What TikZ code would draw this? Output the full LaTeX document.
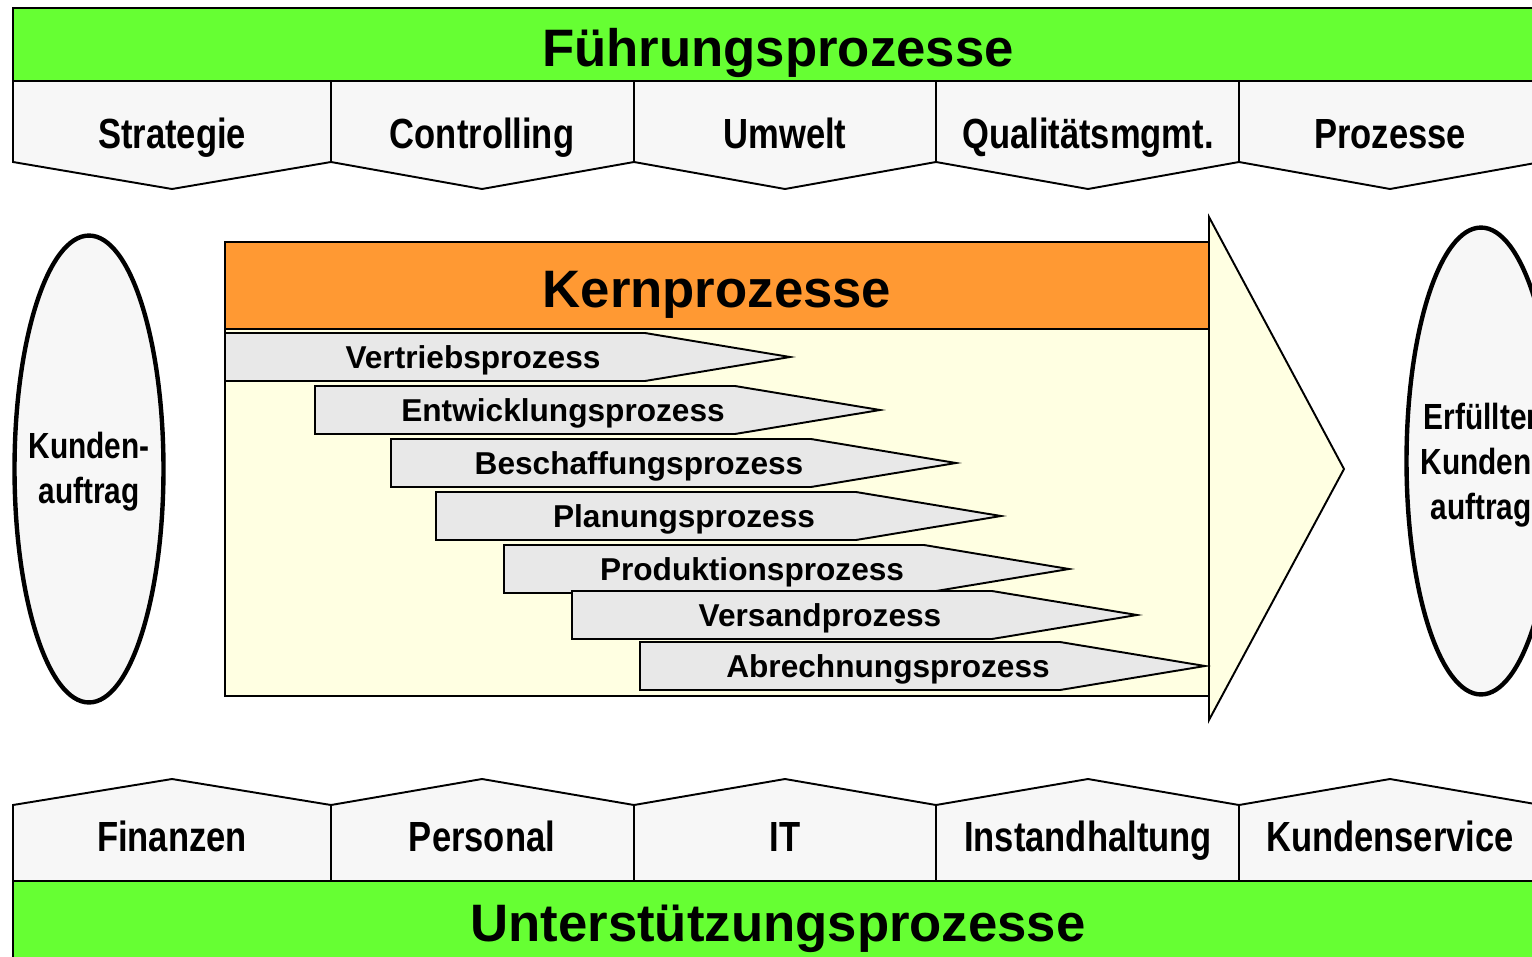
\documentclass[tikz,border=0pt]{standalone}
\usepackage{fontspec}
\setmainfont{Liberation Sans}
\newfontfamily\narrowfont[FakeStretch=0.82]{Liberation Sans}
\usepackage{tikz}
\usetikzlibrary{shapes.geometric}
\definecolor{procgreen}{RGB}{102,255,51}
\definecolor{kernorange}{RGB}{255,153,51}
\definecolor{kernyellow}{RGB}{255,255,226}
\definecolor{tabgray}{RGB}{247,247,247}
\definecolor{stepgray}{RGB}{232,232,232}

\begin{document}
\begin{tikzpicture}[x=0.02cm, y=-0.02cm,
  bar/.style={draw=black, line width=1.1pt, fill=procgreen},
  title/.style={anchor=base, inner sep=0pt, font=\bfseries\fontsize{30}{36}\selectfont},
  tab/.style={draw=black, line width=1.1pt, fill=tabgray},
  tablabel/.style={anchor=base, inner sep=0pt, font=\narrowfont\bfseries\fontsize{24}{28}\selectfont},
  kernbody/.style={draw=black, line width=1.1pt, fill=kernyellow},
  kernhead/.style={draw=black, line width=1.1pt, fill=kernorange},
  stepbox/.style={draw=black, line width=1.1pt, fill=stepgray},
  steplabel/.style={anchor=base, inner sep=0pt, font=\bfseries\fontsize{18}{22}\selectfont},
  order/.style={ellipse, draw=black, line width=2.5pt, fill=tabgray, minimum width=2.98cm, minimum height=9.34cm, inner sep=0pt},
  orderlabel/.style={inner sep=0pt, align=center, font=\narrowfont\bfseries\fontsize{20.7}{25.5}\selectfont}]
\useasboundingbox (0,0) rectangle (1532,957);
\clip (0,0) rectangle (1532,957);

% Fuehrungsprozesse
\draw[bar] (13,8) rectangle (1560,81);
\node (fuehrung) [title] at (778,66) {Führungsprozesse};
\draw[tab] (13,81) -- (331,81) -- (331,162) -- (172,189) -- (13,162) -- cycle;
\draw[tab] (331,81) -- (634,81) -- (634,162) -- (482,189) -- (331,162) -- cycle;
\draw[tab] (634,81) -- (936,81) -- (936,162) -- (785,189) -- (634,162) -- cycle;
\draw[tab] (936,81) -- (1239,81) -- (1239,162) -- (1088,189) -- (936,162) -- cycle;
\draw[tab] (1239,81) -- (1541,81) -- (1541,162) -- (1390,189) -- (1239,162) -- cycle;
\node (strategie) [tablabel] at (172,148) {Strategie};
\node (controlling) [tablabel] at (482,148) {Controlling};
\node (umwelt) [tablabel] at (785,148) {Umwelt};
\node (qualitaet) [tablabel] at (1088,148) {Qualitätsmgmt.};
\node (prozesse) [tablabel] at (1390,148) {Prozesse};

% Kernprozesse
\draw[kernbody] (225,329) rectangle (1209,696);
\draw[kernbody] (1209,217) -- (1344,469) -- (1209,720) -- cycle;
\draw[kernhead] (225,242) rectangle (1209,329);
\node (kern) [title] at (717,307) {Kernprozesse};

\draw[stepbox] (225,333) -- (645,333) -- (790,357) -- (645,381) -- (225,381) -- cycle;
\node (vertrieb) [steplabel] at (473,368.5) {Vertriebsprozess};
\draw[stepbox] (315,386) -- (735,386) -- (880,410) -- (735,434) -- (315,434) -- cycle;
\node (entwicklung) [steplabel] at (563,421.5) {Entwicklungsprozess};
\draw[stepbox] (391,439) -- (811,439) -- (956,463) -- (811,487) -- (391,487) -- cycle;
\node (beschaffung) [steplabel] at (639,474.5) {Beschaffungsprozess};
\draw[stepbox] (436,492) -- (856,492) -- (1001,516) -- (856,540) -- (436,540) -- cycle;
\node (planung) [steplabel] at (684,527.5) {Planungsprozess};
\draw[stepbox] (504,545) -- (924,545) -- (1069,569) -- (924,593) -- (504,593) -- cycle;
\node (produktion) [steplabel] at (752,580.5) {Produktionsprozess};
\draw[stepbox] (572,591) -- (992,591) -- (1137,615) -- (992,639) -- (572,639) -- cycle;
\node (versand) [steplabel] at (820,626.5) {Versandprozess};
\draw[stepbox] (640,642) -- (1060,642) -- (1205,666) -- (1060,690) -- (640,690) -- cycle;
\node (abrechnung) [steplabel] at (888,677.5) {Abrechnungsprozess};

% Kundenauftrag
\node (auftrag) [order] at (89,469) {};
\node (auftragtext) [orderlabel] at (89,472) {Kunden-\\auftrag};
\node (erfuellt) [order] at (1481,461) {};
\node (erfuellttext) [orderlabel] at (1481,465) {Erfüllter\\Kunden-\\auftrag};

% Unterstuetzungsprozesse
\draw[bar] (13,881) rectangle (1560,980);
\node (unterstuetzung) [title] at (778,941) {Unterstützungsprozesse};
\draw[tab] (13,881) -- (13,805) -- (172,779) -- (331,805) -- (331,881) -- cycle;
\draw[tab] (331,881) -- (331,805) -- (482,779) -- (634,805) -- (634,881) -- cycle;
\draw[tab] (634,881) -- (634,805) -- (785,779) -- (936,805) -- (936,881) -- cycle;
\draw[tab] (936,881) -- (936,805) -- (1088,779) -- (1239,805) -- (1239,881) -- cycle;
\draw[tab] (1239,881) -- (1239,805) -- (1390,779) -- (1541,805) -- (1541,881) -- cycle;
\node (finanzen) [tablabel] at (172,851) {Finanzen};
\node (personal) [tablabel] at (482,851) {Personal};
\node (it) [tablabel] at (785,851) {IT};
\node (instand) [tablabel] at (1088,851) {Instandhaltung};
\node (service) [tablabel] at (1390,851) {Kundenservice};
\end{tikzpicture}
\end{document}
